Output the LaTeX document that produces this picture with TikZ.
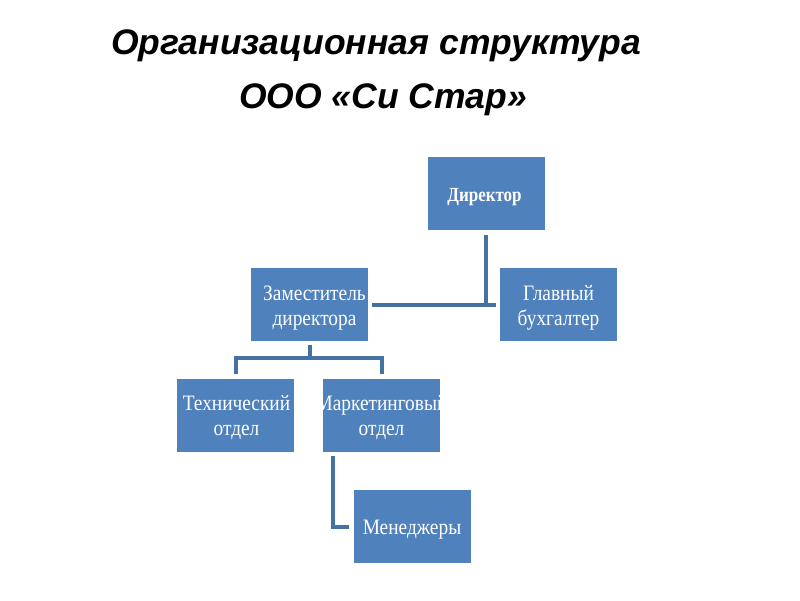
\documentclass[tikz,border=0pt]{standalone}
\usepackage{fontspec}
\setmainfont{Liberation Serif}
\newfontfamily\boxfont[FakeStretch=0.88]{Liberation Serif}
\newfontfamily\dirfont[FakeStretch=0.85]{Liberation Serif}
\newfontfamily\titlefont{Liberation Sans}
\definecolor{boxblue}{HTML}{4F81BD}
\definecolor{lineblue}{HTML}{4672A3}
\newcommand{\orgtext}[2][0pt]{\hspace*{#1}\raisebox{-3pt}[\height][\depth]{\begin{tabular}{@{}c@{}}#2\end{tabular}}}
\begin{document}
\begin{tikzpicture}[x=1pt,y=-1pt,
  orgbox/.style={fill=boxblue, draw=none, minimum width=117pt, minimum height=73pt,
    inner sep=0pt, text=white, align=center,
    font=\boxfont\fontsize{22}{25}\selectfont},
  titletext/.style={font=\titlefont\bfseries\itshape\fontsize{35.5}{40}\selectfont, text=black, inner sep=0pt},
  link/.style={draw=lineblue, line width=4pt}]
\useasboundingbox (0,0) rectangle (800,600);
\node[titletext] (t1) at (376,46) {Организационная структура};
\node[titletext] (t2) at (383,100) {ООО «Си Стар»};
\node[orgbox, font=\dirfont\bfseries\fontsize{20}{25}\selectfont] (dir) at (486,193.5) {\orgtext[-3pt]{Директор}};
\node[orgbox] (zam) at (309.5,304.5) {\orgtext[10pt]{Заместитель\\директора}};
\node[orgbox] (buh) at (558.5,304.5) {\orgtext{Главный\\бухгалтер}};
\node[orgbox] (tech) at (235.5,415) {\orgtext[2pt]{Технический\\отдел}};
\node[orgbox] (mark) at (381.5,415) {\orgtext{\makebox[0pt]{Маркетинговый}\\отдел}};
\node[orgbox] (man) at (412,526.5) {\orgtext{Менеджеры}};
\coordinate (j1) at (486,305);
\coordinate (j2) at (309.5,358);
\coordinate (j3) at (333,527);
% director to deputy and accountant
\draw[link] ([yshift=-5pt]dir.south) -- (j1);
\draw[link] ([xshift=4pt]zam.east |- j1) -- ([xshift=-4pt]buh.west |- j1);
% deputy to departments
\draw[link] ([yshift=-4pt]zam.south) -- (j2);
\draw[link] ([yshift=4pt]tech.north) -- (tech.north |- j2) -- (mark.north |- j2) -- ([yshift=4pt]mark.north);
% marketing to managers
\draw[link] ([yshift=-4pt]mark.south -| j3) -- (j3) -- ([xshift=-4pt]man.west |- j3);
\end{tikzpicture}
\end{document}
